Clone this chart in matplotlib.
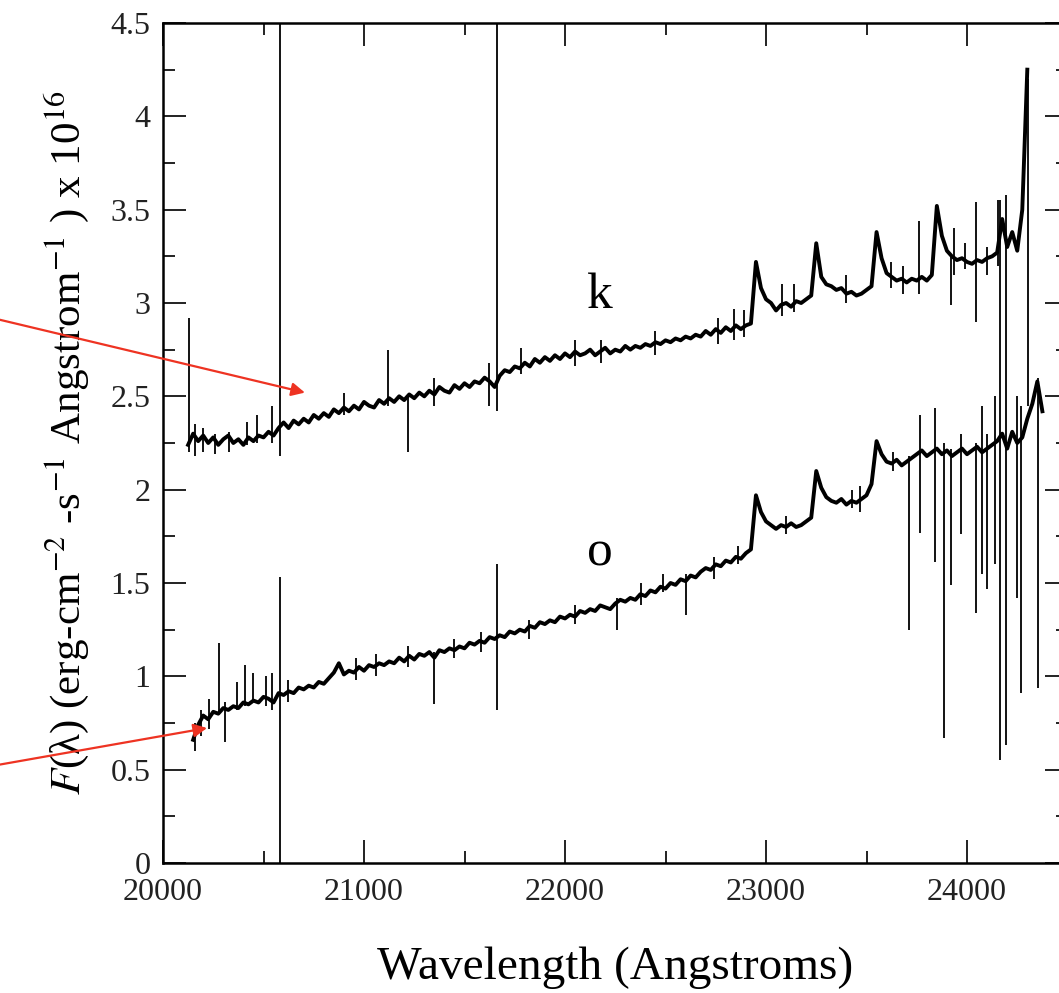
import numpy as np
import matplotlib
matplotlib.use("Agg")
import matplotlib.pyplot as plt
from matplotlib.ticker import MultipleLocator, FormatStrFormatter

plt.rcParams['font.family'] = ['Liberation Serif', 'DejaVu Serif']
plt.rcParams['mathtext.fontset'] = 'stix'

# spectrum "k" sampled every 25 A from 20125 A
k_start, k_step = 20125, 25
k_flux = [
    2.24, 2.30, 2.26, 2.29, 2.25, 2.28, 2.24, 2.27,
    2.29, 2.25, 2.27, 2.24, 2.28, 2.26, 2.29, 2.28,
    2.31, 2.29, 2.33, 2.36, 2.33, 2.37, 2.35, 2.38,
    2.36, 2.40, 2.38, 2.41, 2.39, 2.43, 2.41, 2.44,
    2.42, 2.45, 2.43, 2.47, 2.45, 2.44, 2.48, 2.46,
    2.49, 2.47, 2.50, 2.48, 2.51, 2.49, 2.52, 2.50,
    2.53, 2.51, 2.55, 2.53, 2.52, 2.56, 2.54, 2.57,
    2.55, 2.58, 2.57, 2.60, 2.58, 2.55, 2.61, 2.64,
    2.63, 2.66, 2.65, 2.68, 2.66, 2.70, 2.68, 2.71,
    2.69, 2.72, 2.70, 2.73, 2.71, 2.74, 2.72, 2.73,
    2.75, 2.72, 2.74, 2.76, 2.73, 2.75, 2.74, 2.77,
    2.75, 2.77, 2.76, 2.78, 2.77, 2.79, 2.78, 2.80,
    2.79, 2.81, 2.80, 2.82, 2.81, 2.83, 2.82, 2.85,
    2.83, 2.86, 2.84, 2.87, 2.85, 2.88, 2.86, 2.88,
    2.89, 3.22, 3.08, 3.02, 3.00, 2.96, 2.99, 3.00,
    2.98, 3.01, 3.00, 3.02, 3.04, 3.32, 3.14, 3.10,
    3.09, 3.07, 3.08, 3.05, 3.06, 3.04, 3.05, 3.07,
    3.09, 3.38, 3.24, 3.16, 3.14, 3.12, 3.13, 3.11,
    3.13, 3.12, 3.14, 3.12, 3.15, 3.52, 3.36, 3.28,
    3.25, 3.23, 3.24, 3.22, 3.21, 3.23, 3.22, 3.24,
    3.25, 3.27, 3.45, 3.30, 3.38, 3.28, 3.50, 4.25,
]

# spectrum "o" sampled every 25 A from 20150 A
o_start, o_step = 20150, 25
o_flux = [
    0.66, 0.74, 0.79, 0.77, 0.81, 0.80, 0.83, 0.82,
    0.84, 0.83, 0.86, 0.85, 0.87, 0.86, 0.89, 0.88,
    0.86, 0.91, 0.90, 0.92, 0.91, 0.94, 0.93, 0.95,
    0.94, 0.97, 0.96, 0.99, 1.02, 1.07, 1.01, 1.03,
    1.02, 1.05, 1.03, 1.06, 1.05, 1.07, 1.06, 1.08,
    1.07, 1.10, 1.08, 1.11, 1.09, 1.12, 1.11, 1.13,
    1.10, 1.14, 1.13, 1.15, 1.14, 1.16, 1.15, 1.18,
    1.17, 1.19, 1.18, 1.21, 1.20, 1.22, 1.21, 1.24,
    1.23, 1.25, 1.24, 1.27, 1.26, 1.29, 1.28, 1.30,
    1.29, 1.32, 1.31, 1.33, 1.32, 1.35, 1.34, 1.36,
    1.35, 1.38, 1.37, 1.36, 1.39, 1.41, 1.40, 1.42,
    1.41, 1.44, 1.43, 1.46, 1.45, 1.48, 1.47, 1.50,
    1.49, 1.52, 1.51, 1.54, 1.53, 1.56, 1.58, 1.57,
    1.60, 1.59, 1.62, 1.61, 1.64, 1.63, 1.66, 1.68,
    1.97, 1.88, 1.83, 1.81, 1.79, 1.81, 1.80, 1.82,
    1.80, 1.81, 1.83, 1.85, 2.10, 2.01, 1.96, 1.94,
    1.93, 1.95, 1.92, 1.94, 1.93, 1.95, 1.97, 2.03,
    2.26, 2.19, 2.15, 2.14, 2.16, 2.13, 2.15, 2.17,
    2.19, 2.21, 2.18, 2.20, 2.22, 2.19, 2.21, 2.18,
    2.20, 2.22, 2.19, 2.21, 2.23, 2.20, 2.22, 2.24,
    2.26, 2.30, 2.22, 2.31, 2.25, 2.28, 2.38, 2.46,
    2.58, 2.42,
]

# narrow features (wavelength, low, high)
k_spike_w = [20130, 20160, 20200, 20260, 20330, 20420, 20470, 20540, 20580, 20900,
             21120, 21220, 21350, 21620, 21660, 21780, 22050, 22180, 22450, 22760,
             22840, 22890, 23080, 23140, 23400, 23620, 23680, 23760, 23920, 23935,
             23990, 24045, 24100, 24155, 24305]
k_spike_lo = [2.20, 2.18, 2.20, 2.19, 2.20, 2.24, 2.25, 2.25, 2.18, 2.40,
              2.45, 2.20, 2.45, 2.45, 2.42, 2.62, 2.66, 2.68, 2.72, 2.78,
              2.80, 2.82, 2.93, 2.95, 3.00, 3.08, 3.05, 3.05, 2.99, 3.15,
              3.18, 2.90, 3.15, 3.20, 2.45]
k_spike_hi = [2.92, 2.35, 2.33, 2.30, 2.31, 2.36, 2.40, 2.45, 4.60, 2.52,
              2.75, 2.50, 2.60, 2.68, 4.60, 2.76, 2.80, 2.80, 2.85, 2.92,
              2.97, 2.96, 3.10, 3.10, 3.15, 3.22, 3.20, 3.44, 3.25, 3.40,
              3.32, 3.54, 3.30, 3.55, 4.20]

o_spike_w = [20160, 20190, 20230, 20280, 20310, 20370, 20410, 20450, 20510, 20540,
             20580, 20620, 20960, 21060, 21220, 21350, 21450, 21580, 21660, 21820,
             22050, 22260, 22380, 22490, 22600, 22740, 22860, 23100, 23430, 23470,
             23630, 23711, 23766, 23841, 23886, 23920, 23970, 24045, 24075, 24100,
             24140, 24165, 24195, 24250, 24270, 24355]
o_spike_lo = [0.60, 0.68, 0.72, 0.80, 0.65, 0.82, 0.84, 0.86, 0.84, 0.82,
              0.00, 0.86, 0.98, 1.00, 1.05, 0.85, 1.10, 1.13, 0.82, 1.20,
              1.28, 1.25, 1.38, 1.45, 1.33, 1.52, 1.60, 1.76, 1.90, 1.88,
              2.10, 1.25, 1.77, 1.61, 0.67, 1.49, 1.76, 1.34, 1.55, 1.47,
              1.60, 0.55, 0.63, 1.42, 0.91, 0.94]
o_spike_hi = [0.75, 0.82, 0.88, 1.18, 0.86, 0.97, 1.06, 1.02, 1.00, 1.02,
              1.53, 0.98, 1.10, 1.12, 1.16, 1.13, 1.20, 1.24, 1.60, 1.30,
              1.38, 1.42, 1.50, 1.55, 1.55, 1.64, 1.70, 1.86, 2.00, 2.02,
              2.20, 2.18, 2.40, 2.44, 2.25, 2.22, 2.30, 2.25, 2.45, 2.30,
              2.50, 3.55, 3.58, 2.50, 2.45, 2.60]

k_wave = k_start + k_step * np.arange(len(k_flux))
o_wave = o_start + o_step * np.arange(len(o_flux))

W, H = 1059, 993
fig = plt.figure(figsize=(W / 100, H / 100), dpi=100)
ax = fig.add_axes([163 / W, 1 - 863 / H, (1067.5 - 163) / W, 840 / H])

ax.plot(k_wave, k_flux, color='black', lw=2.8)
ax.plot(o_wave, o_flux, color='black', lw=2.8)
ax.vlines(k_spike_w, k_spike_lo, k_spike_hi, color='black', lw=1.3)
ax.vlines(o_spike_w, o_spike_lo, o_spike_hi, color='black', lw=1.3)

ax.set_xlim(20000, 24500)
ax.set_ylim(0, 4.5)
ax.xaxis.set_major_locator(MultipleLocator(1000))
ax.xaxis.set_minor_locator(MultipleLocator(500))
ax.yaxis.set_major_locator(MultipleLocator(0.5))
ax.yaxis.set_minor_locator(MultipleLocator(0.25))
ax.yaxis.set_major_formatter(FormatStrFormatter('%g'))
ax.tick_params(which='both', direction='in', top=True, right=True, width=1.4,
               labelsize=23, colors='#222222')
ax.tick_params(which='major', length=16.5)
ax.tick_params(axis='y', which='major', pad=9)
ax.tick_params(axis='x', which='major', pad=11)
ax.tick_params(which='minor', length=8.5)
for s in ax.spines.values():
    s.set_linewidth(1.8)

ax.set_xlabel('Wavelength (Angstroms)', fontsize=34, labelpad=28)
ax.set_ylabel(r'$F$(λ) (erg-cm$^{-2}$ -s$^{-1}$ Angstrom$^{-1}$ ) x 10$^{16}$', fontsize=31)
ax.yaxis.set_label_coords(-0.08, 0.5)

ax.text(22174, 3.04, 'k', fontsize=37, ha='center', va='center')
ax.text(22174, 1.66, 'o', fontsize=37, ha='center', va='center')

red = '#ee3322'
ax.annotate('', xy=(20706, 2.52), xytext=(19150, 2.92), annotation_clip=False,
            arrowprops=dict(arrowstyle='-|>', color=red, lw=1.6, mutation_scale=20,
                            shrinkA=0, shrinkB=0))
ax.annotate('', xy=(20219, 0.723), xytext=(19150, 0.52), annotation_clip=False,
            arrowprops=dict(arrowstyle='-|>', color=red, lw=1.6, mutation_scale=20,
                            shrinkA=0, shrinkB=0))

fig.savefig('out.png', dpi=100)
